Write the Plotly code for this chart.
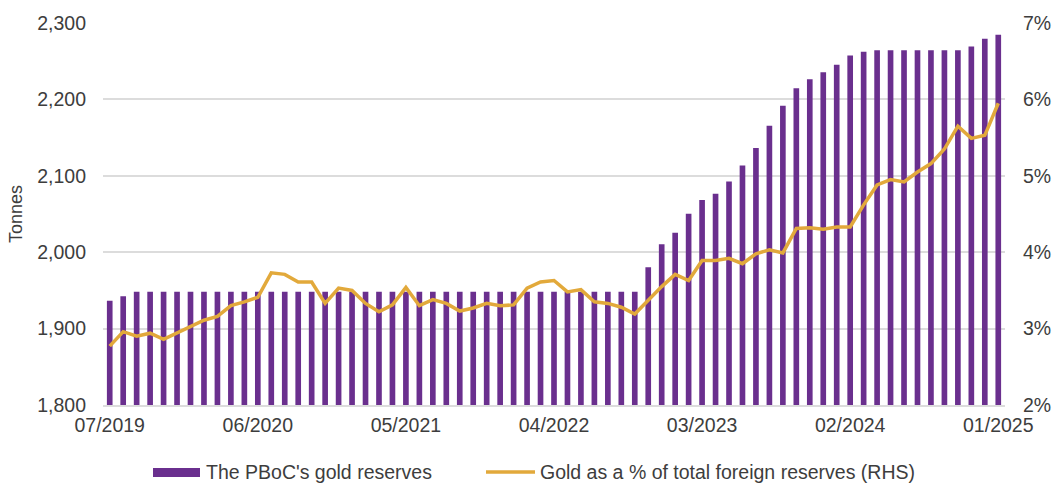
import plotly.graph_objects as go

# Monthly observations, 07/2019 .. 01/2025
months = [
    "07/2019", "08/2019", "09/2019", "10/2019", "11/2019", "12/2019",
    "01/2020", "02/2020", "03/2020", "04/2020", "05/2020", "06/2020",
    "07/2020", "08/2020", "09/2020", "10/2020", "11/2020", "12/2020",
    "01/2021", "02/2021", "03/2021", "04/2021", "05/2021", "06/2021",
    "07/2021", "08/2021", "09/2021", "10/2021", "11/2021", "12/2021",
    "01/2022", "02/2022", "03/2022", "04/2022", "05/2022", "06/2022",
    "07/2022", "08/2022", "09/2022", "10/2022", "11/2022", "12/2022",
    "01/2023", "02/2023", "03/2023", "04/2023", "05/2023", "06/2023",
    "07/2023", "08/2023", "09/2023", "10/2023", "11/2023", "12/2023",
    "01/2024", "02/2024", "03/2024", "04/2024", "05/2024", "06/2024",
    "07/2024", "08/2024", "09/2024", "10/2024", "11/2024", "12/2024",
    "01/2025",
]

# PBoC gold reserves, tonnes
gold_tonnes = [
    1936.5, 1942.4, 1948.3, 1948.3, 1948.3, 1948.3,
    1948.3, 1948.3, 1948.3, 1948.3, 1948.3, 1948.3,
    1948.3, 1948.3, 1948.3, 1948.3, 1948.3, 1948.3,
    1948.3, 1948.3, 1948.3, 1948.3, 1948.3, 1948.3,
    1948.3, 1948.3, 1948.3, 1948.3, 1948.3, 1948.3,
    1948.3, 1948.3, 1948.3, 1948.3, 1948.3, 1948.3,
    1948.3, 1948.3, 1948.3, 1948.3, 1980.4, 2010.5,
    2025.4, 2050.4, 2068.4, 2076.5, 2092.4, 2113.5,
    2136.5, 2165.4, 2191.6, 2214.6, 2226.4, 2235.4,
    2245.3, 2257.4, 2262.4, 2264.3, 2264.3, 2264.3,
    2264.3, 2264.3, 2264.3, 2264.3, 2269.3, 2279.5,
    2284.6,
]

# Gold as a share of total foreign reserves, %
gold_share_pct = [
    2.77, 2.96, 2.90, 2.94, 2.86, 2.94,
    3.03, 3.11, 3.16, 3.30, 3.35, 3.41,
    3.73, 3.71, 3.61, 3.61, 3.33, 3.53,
    3.50, 3.33, 3.22, 3.31, 3.54, 3.30,
    3.38, 3.33, 3.23, 3.27, 3.33, 3.30,
    3.31, 3.53, 3.61, 3.63, 3.48, 3.51,
    3.35, 3.33, 3.28, 3.19, 3.37, 3.55,
    3.71, 3.63, 3.89, 3.89, 3.92, 3.85,
    3.98, 4.03, 3.99, 4.31, 4.32, 4.30,
    4.33, 4.33, 4.62, 4.88, 4.95, 4.92,
    5.05, 5.16, 5.35, 5.65, 5.49, 5.53,
    5.95,
]

x_tick_labels = ["07/2019", "06/2020", "05/2021", "04/2022", "03/2023", "02/2024", "01/2025"]
left_ticks = [1800, 1900, 2000, 2100, 2200, 2300]
right_ticks = [2, 3, 4, 5, 6, 7]
right_tick_labels = ["2%", "3%", "4%", "5%", "6%", "7%"]

PURPLE = "#6A2F8E"
GOLD = "#E2A93B"
TEXT = "#3d3d3d"
GRID = "#dcdcdc"
FONT = "Liberation Sans, Arial, sans-serif"

fig = go.Figure()
fig.add_trace(go.Bar(
    x=months, y=gold_tonnes, name="The PBoC's gold reserves",
    marker=dict(color=PURPLE, line=dict(width=0)), yaxis="y",
))
fig.add_trace(go.Scatter(
    x=months, y=gold_share_pct, name="Gold as a % of total foreign reserves (RHS)",
    mode="lines", line=dict(color=GOLD, width=3.5), yaxis="y2",
))

W, H = 1053, 485
L, R, T, B = 103, 48, 23, 80
pw, ph = W - L - R, H - T - B


def px_x(p):
    return (p - L) / pw


def px_y(p):
    return (H - B - p) / ph


# Legend drawn as swatches + labels below the plot
leg_y = px_y(472)
shapes = [
    dict(type="rect", xref="paper", yref="paper",
         x0=px_x(153), x1=px_x(200), y0=px_y(477), y1=px_y(468),
         fillcolor=PURPLE, line=dict(width=0)),
    dict(type="line", xref="paper", yref="paper",
         x0=px_x(486), x1=px_x(535), y0=leg_y, y1=leg_y,
         line=dict(color=GOLD, width=3.5)),
]
annotations = [
    dict(xref="paper", yref="paper", x=px_x(204), y=leg_y, xanchor="left", yanchor="middle",
         text="The PBoC's gold reserves", showarrow=False,
         font=dict(family=FONT, size=19.5, color=TEXT)),
    dict(xref="paper", yref="paper", x=px_x(538), y=leg_y, xanchor="left", yanchor="middle",
         text="Gold as a % of total foreign reserves (RHS)", showarrow=False,
         font=dict(family=FONT, size=19.5, color=TEXT)),
]

fig.update_layout(
    width=W, height=H,
    margin=dict(l=L, r=R, t=T, b=B, autoexpand=False),
    paper_bgcolor="white", plot_bgcolor="white",
    font=dict(family=FONT, size=19.5, color=TEXT),
    showlegend=False,
    bargap=0.58,
    shapes=shapes,
    annotations=annotations,
    xaxis=dict(
        type="category", categoryorder="array", categoryarray=months,
        tickmode="array", tickvals=x_tick_labels, ticktext=x_tick_labels,
        range=[-0.5, len(months) - 0.5],
        showgrid=False, showline=True, linecolor=GRID, linewidth=1.5,
        ticks="", tickangle=0, ticklabelstandoff=2,
        tickfont=dict(family=FONT, size=19.5, color=TEXT),
    ),
    yaxis=dict(
        range=[1800, 2300], tickmode="array", tickvals=left_ticks, tickformat=",",
        showgrid=True, gridcolor=GRID, gridwidth=1.5, zeroline=False,
        ticks="", ticklabelstandoff=16,
        tickfont=dict(family=FONT, size=19.5, color=TEXT),
        title=dict(text="Tonnes", standoff=9,
                   font=dict(family=FONT, size=18, color=TEXT)),
    ),
    yaxis2=dict(
        range=[2, 7], tickmode="array", tickvals=right_ticks, ticktext=right_tick_labels,
        overlaying="y", side="right", showgrid=False, zeroline=False,
        ticks="", ticklabelstandoff=17,
        tickfont=dict(family=FONT, size=19.5, color=TEXT),
    ),
)

fig.write_html("out.html")
